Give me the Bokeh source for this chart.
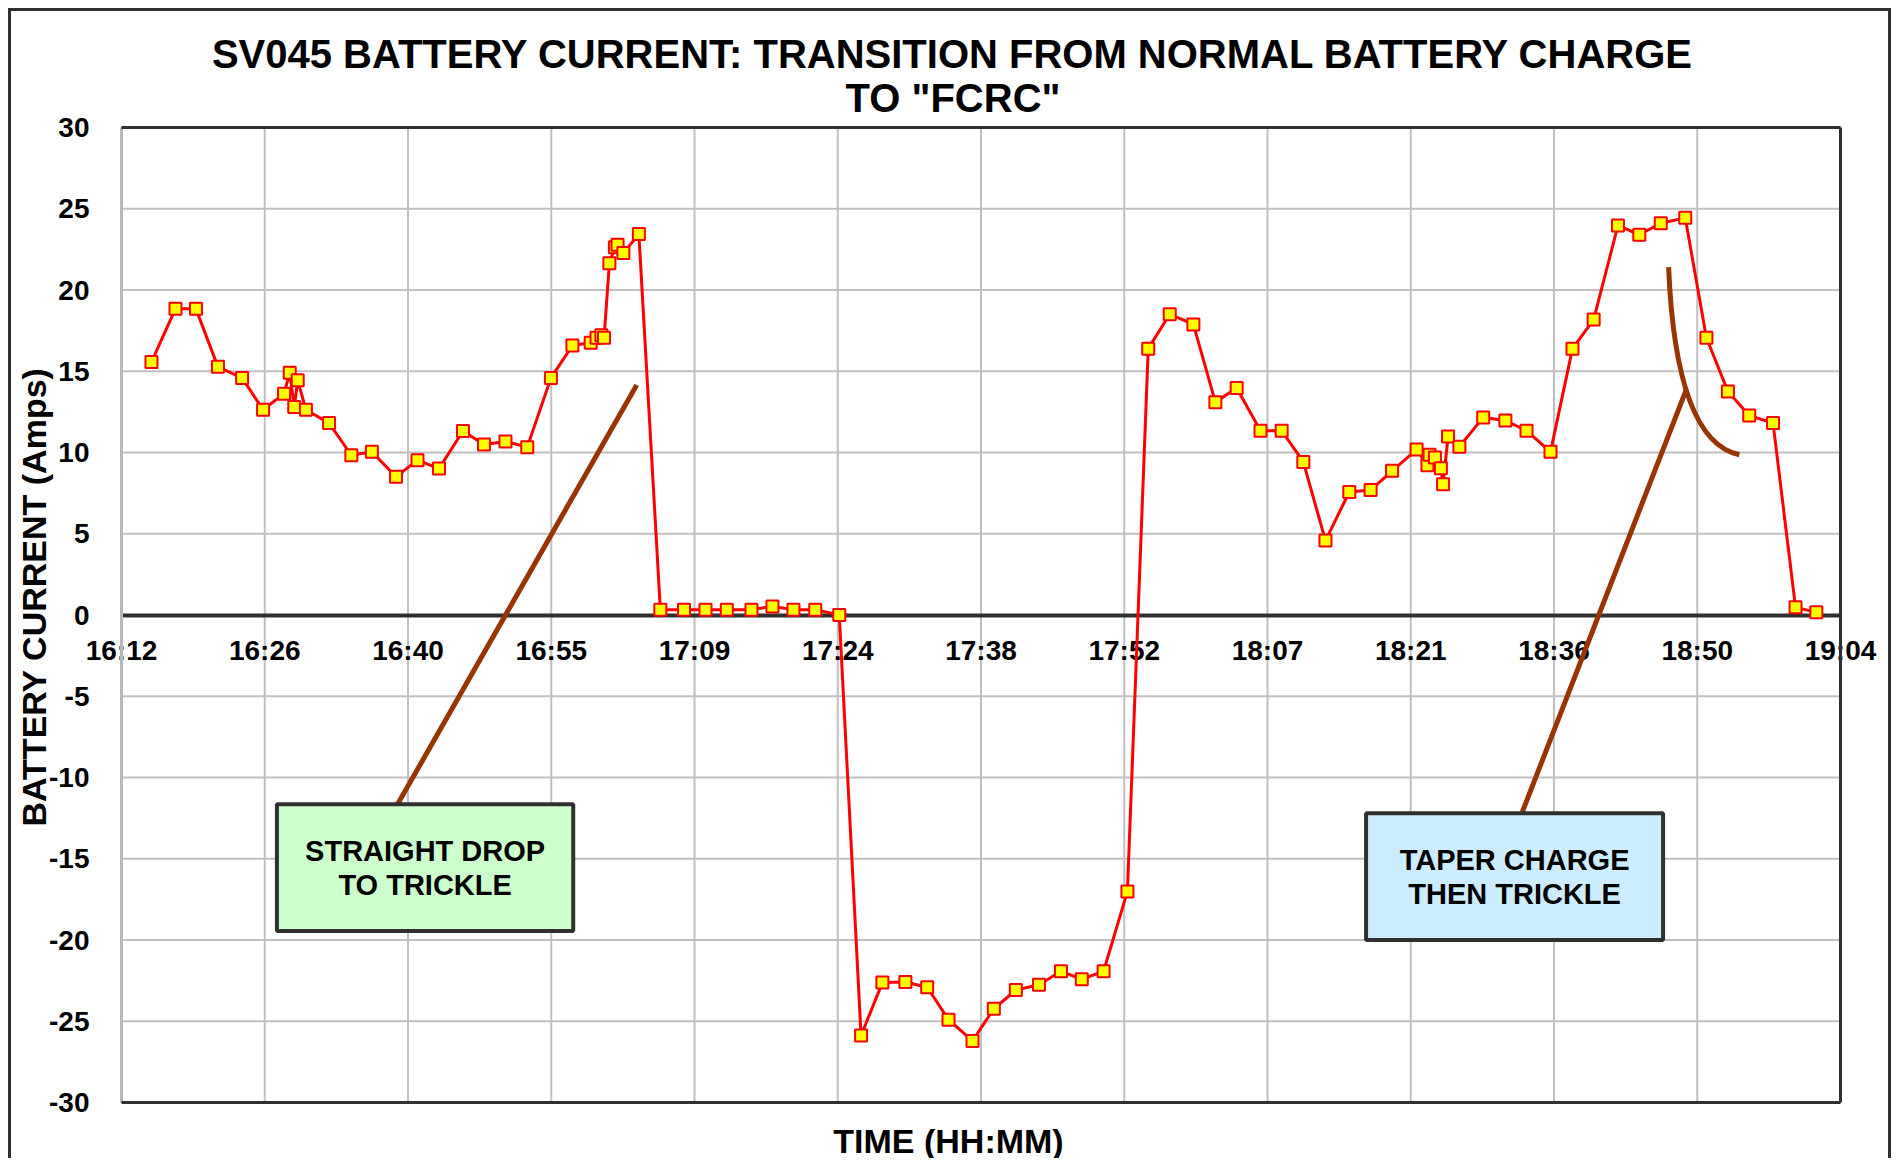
import math
from bokeh.plotting import figure
from bokeh.models import (Range1d, FixedTicker, Span, BoxAnnotation,
                          Label, ColumnDataSource)
from bokeh.embed import file_html
from bokeh.resources import INLINE

# ---------------- data ----------------
sample_times = [
    "16:15:00", "16:17:24", "16:19:27", "16:21:39", "16:24:04", "16:26:10",
    "16:28:16", "16:28:50", "16:29:17", "16:29:38", "16:30:27", "16:32:46",
    "16:35:00", "16:37:03", "16:39:28", "16:41:37", "16:43:46", "16:46:10",
    "16:48:16", "16:50:25", "16:52:36", "16:54:58", "16:57:07", "16:58:57",
    "16:59:32", "17:00:01", "17:00:17", "17:00:49", "17:01:22", "17:01:38",
    "17:02:13", "17:03:46", "17:05:55", "17:08:17", "17:10:26", "17:12:34",
    "17:15:02", "17:17:08", "17:19:14", "17:21:25", "17:23:49", "17:26:00",
    "17:28:08", "17:30:26", "17:32:37", "17:34:45", "17:37:09", "17:39:17",
    "17:41:29", "17:43:48", "17:46:00", "17:48:05", "17:50:16", "17:52:39",
    "17:54:44", "17:56:53", "17:59:15", "18:01:27", "18:03:35", "18:05:58",
    "18:08:05", "18:10:15", "18:12:28", "18:14:51", "18:16:59", "18:19:08",
    "18:21:35", "18:22:40", "18:22:53", "18:23:25", "18:24:01", "18:24:14",
    "18:24:44", "18:25:52", "18:28:15", "18:30:28", "18:32:35", "18:34:59",
    "18:37:11", "18:39:18", "18:41:44", "18:43:52", "18:46:01", "18:48:28",
    "18:50:35", "18:52:44", "18:54:52", "18:57:15", "18:59:30", "19:01:35",
]
battery_current = [
    15.57, 18.84, 18.84, 15.27, 14.59, 12.63,
    13.62, 14.91, 12.80, 14.44, 12.63, 11.81,
    9.83, 10.04, 8.51, 9.53, 9.01, 11.32,
    10.49, 10.68, 10.33, 14.59, 16.58, 16.75,
    17.06, 17.22, 17.06, 21.64, 22.63, 22.79,
    22.27, 23.45, 0.33, 0.33, 0.33, 0.33,
    0.33, 0.52, 0.33, 0.33, 0.00, -25.88,
    -22.62, -22.58, -22.91, -24.90, -26.21, -24.23,
    -23.08, -22.75, -21.92, -22.42, -21.92, -17.01,
    16.39, 18.51, 17.88, 13.10, 13.97, 11.34,
    11.34, 9.42, 4.58, 7.57, 7.69, 8.87,
    10.18, 9.22, 9.86, 9.69, 9.03, 8.05,
    10.98, 10.35, 12.16, 11.97, 11.34, 10.04,
    16.39, 18.18, 23.97, 23.40, 24.11, 24.44,
    17.06, 13.76, 12.28, 11.81, 0.47, 0.17,
]
x_tick_labels = ["16:12", "16:26", "16:40", "16:55", "17:09", "17:24", "17:38",
                 "17:52", "18:07", "18:21", "18:36", "18:50", "19:04"]
y_ticks = [-30, -25, -20, -15, -10, -5, 0, 5, 10, 15, 20, 25, 30]

title_line1 = "SV045 BATTERY CURRENT: TRANSITION FROM NORMAL BATTERY CHARGE"
title_line2 = 'TO "FCRC"'
x_title = "TIME (HH:MM)"
y_title = "BATTERY CURRENT (Amps)"
note_left = ["STRAIGHT DROP", "TO TRICKLE"]
note_right = ["TAPER CHARGE", "THEN TRICKLE"]

# ---------------- helpers ----------------
def to_minutes(t):
    parts = [int(v) for v in t.split(":")]
    while len(parts) < 3:
        parts.append(0)
    h, m, s = parts
    return h * 60 + m + s / 60.0

t0 = to_minutes(x_tick_labels[0])
t1 = to_minutes(x_tick_labels[-1])
xs = [to_minutes(t) - t0 for t in sample_times]
span_min = t1 - t0
n_int = len(x_tick_labels) - 1
x_tick_pos = [i * span_min / n_int for i in range(len(x_tick_labels))]
y_lo, y_hi = y_ticks[0], y_ticks[-1]

# ---------------- layout (pixels inside the canvas) ----------------
FONT = "Liberation Sans"
DARK = "#303030"
GRID = "#c0c0c0"
W, H = 1883, 1150
PLOT_LEFT, PLOT_TOP, PLOT_W, PLOT_H = 110, 116, 1719, 975
px_per_x = PLOT_W / span_min
px_per_y = PLOT_H / (y_hi - y_lo)

def cx(px):          # canvas px -> data x
    return (px - PLOT_LEFT) / px_per_x

def cy(py):          # canvas px (from top) -> data y
    return y_hi - (py - PLOT_TOP) / px_per_y

p = figure(width=W, height=H, output_backend="svg", toolbar_location=None,
           x_range=Range1d(cx(0), cx(W)), y_range=Range1d(cy(H), cy(0)),
           min_border=0, background_fill_color="white",
           border_fill_color="white")
p.styles = {"margin-left": "8px", "margin-top": "8px",
            "border-left": "3px solid " + DARK, "border-top": "3px solid " + DARK,
            "border-right": "3px solid " + DARK}
p.outline_line_color = None
p.xgrid.visible = False
p.ygrid.visible = False

# grid lines limited to the plot area
p.segment(x0=[0] * len(y_ticks), x1=[span_min] * len(y_ticks), y0=y_ticks, y1=y_ticks,
          line_color=GRID, line_width=2, level="underlay")
p.segment(x0=x_tick_pos, x1=x_tick_pos, y0=[y_lo] * len(x_tick_pos),
          y1=[y_hi] * len(x_tick_pos), line_color=GRID, line_width=2, level="underlay")

# x axis drawn on the zero line
xa = p.xaxis[0]
xa.fixed_location = 0
xa.bounds = (0, span_min)
xa.ticker = FixedTicker(ticks=x_tick_pos)
xa.major_label_overrides = {pos: lab for pos, lab in zip(x_tick_pos, x_tick_labels)}
xa.axis_line_color = DARK
xa.axis_line_width = 4
xa.major_tick_line_color = None
xa.minor_tick_line_color = None
xa.major_label_text_font = FONT
xa.major_label_text_font_style = "bold"
xa.major_label_text_font_size = "28px"
xa.major_label_text_color = "black"
xa.major_label_standoff = 14

# y axis on the left edge of the plot area
ya = p.yaxis[0]
ya.fixed_location = 0
ya.bounds = (y_lo, y_hi)
ya.ticker = FixedTicker(ticks=y_ticks)
ya.major_label_overrides = {v: str(v) for v in y_ticks}
ya.axis_line_color = "#b8b8b8"
ya.axis_line_width = 3
ya.major_tick_line_color = None
ya.minor_tick_line_color = None
ya.major_label_text_font = FONT
ya.major_label_text_font_style = "bold"
ya.major_label_text_font_size = "28px"
ya.major_label_text_color = "black"
ya.major_label_standoff = 26

# plot-area edges (top, bottom, right)
p.segment(x0=[0, 0], x1=[span_min, span_min], y0=[y_hi, y_lo], y1=[y_hi, y_lo],
          line_color=DARK, line_width=3, level="overlay")
p.segment(x0=[span_min], x1=[span_min], y0=[y_lo], y1=[y_hi],
          line_color=DARK, line_width=3, level="overlay")

# titles
def add_text(x, y, txt, size, angle=0.0, level="annotation"):
    p.add_layout(Label(x=x, y=y, text=txt, angle=angle, text_align="center",
                       text_baseline="middle", text_font=FONT,
                       text_font_style="bold", text_font_size=size,
                       text_color="black", level=level))

add_text(cx(W / 2), cy(42.5), title_line1, "40px")
add_text(cx(W / 2), cy(86.5), title_line2, "40px")
add_text(cx(937), cy(1129), x_title, "34px")
add_text(cx(22), cy(585.5), y_title, "34px", angle=math.pi / 2)

# annotation boxes
BROWN = "#993300"
p.add_layout(BoxAnnotation(left=15.55, right=45.2, top=-11.65, bottom=-19.45,
                           fill_color="#CCFFCC", fill_alpha=1.0,
                           line_color=DARK, line_alpha=1.0, line_width=4,
                           level="overlay"))
p.add_layout(BoxAnnotation(left=124.53, right=154.25, top=-12.2, bottom=-20.0,
                           fill_color="#CCECFF", fill_alpha=1.0,
                           line_color=DARK, line_alpha=1.0, line_width=4,
                           level="overlay"))
for (bx, ys, lines) in ((30.38, (-14.54, -16.63), note_left),
                        (139.39, (-15.06, -17.18), note_right)):
    for yy, txt in zip(ys, lines):
        add_text(bx, yy, txt, "29px", level="overlay")

# data series
src = ColumnDataSource(dict(x=xs, y=battery_current))
p.line("x", "y", source=src, line_color="#FF0000", line_width=3, level="annotation")
p.scatter("x", "y", source=src, marker="square", size=12, fill_color="#FFFF00",
          line_color="#FF0000", line_width=2, level="annotation")

# pointer lines
p.line([51.55, 27.62], [14.16, -11.65], line_color=BROWN, line_width=5, level="annotation")
p.line([156.6, 140.16], [13.92, -12.13], line_color=BROWN, line_width=5, level="annotation")
p.bezier(x0=[154.8], y0=[21.41], x1=[161.88], y1=[9.86], cx0=[155.2], cy0=[15.5],
         cx1=[157.0], cy1=[10.5], line_color=BROWN, line_width=5, level="annotation")

open("out.html", "w").write(file_html(p, INLINE))
